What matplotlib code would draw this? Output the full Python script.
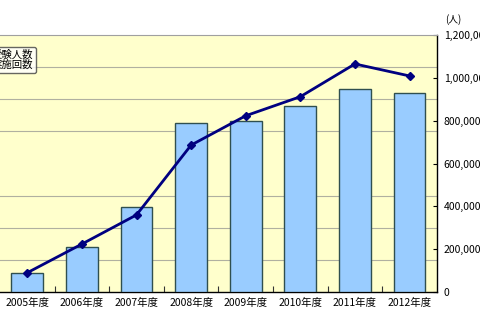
import matplotlib
matplotlib.use("Agg")
import matplotlib.pyplot as plt
from matplotlib.ticker import FuncFormatter, MultipleLocator
from matplotlib.lines import Line2D
from matplotlib.patches import Patch

plt.rcParams['font.family'] = ['Noto Sans CJK JP', 'DejaVu Sans']

years = ["2005年度", "2006年度", "2007年度", "2008年度", "2009年度", "2010年度", "2011年度", "2012年度"]
people = [88000, 210000, 397000, 789000, 798000, 868000, 948000, 929000]
counts = [90000, 224000, 360000, 686000, 823000, 912000, 1065000, 1009000]
legend_labels = ["受験人数", "実施回数"]
unit_label = "(人)"

fig = plt.figure(figsize=(4.8, 3.2), dpi=100)
fig.patch.set_facecolor("white")
ax = fig.add_axes([0.0, 0.0875, 0.910, 0.803])
ax.set_facecolor("#FFFFCC")

x = list(range(len(years)))
ax.bar(x, people, width=0.58, color="#99CCFF", edgecolor="#2F4F4F", linewidth=1.0, zorder=3)
ax.plot(x, counts, color="#000080", linewidth=2.0, marker="D", markersize=4.5,
        markerfacecolor="#000080", markeredgecolor="#000080", zorder=4)

ax.set_xlim(-0.5, len(years) - 0.5)
ax.set_ylim(0, 1200000)
ax.set_xticks(x)
ax.set_xticklabels(years, fontsize=7.5)
ax.set_xticks([i + 0.5 for i in x[:-1]], minor=True)
ax.tick_params(axis='x', which='major', length=0, pad=4)
ax.tick_params(axis='x', which='minor', direction='in', length=4, width=0.8, color='#333333')

ax.yaxis.tick_right()
ax.yaxis.set_major_locator(MultipleLocator(200000))
ax.yaxis.set_minor_locator(MultipleLocator(150000))
ax.yaxis.set_major_formatter(FuncFormatter(lambda v, p: f"{int(v):,}"))
ax.tick_params(axis='y', which='major', direction='in', length=3, width=0.8, labelsize=7.5, pad=5)
ax.tick_params(axis='y', which='minor', length=0)
ax.grid(axis='y', which='minor', color='#B0B0A0', linewidth=0.8, zorder=0)

ax.spines['top'].set_color('#A0A0A0')
ax.spines['left'].set_visible(False)
ax.spines['right'].set_color('black')
ax.spines['bottom'].set_color('black')
ax.spines['right'].set_linewidth(1.0)
ax.spines['bottom'].set_linewidth(1.0)

fig.text(445 / 480, 1 - 20 / 320, unit_label, fontsize=7, ha='left', va='center')

handles = [Patch(facecolor="#99CCFF", edgecolor="#2F4F4F"),
           Line2D([0], [0], color="#000080", marker="D", markersize=4, linewidth=2)]
leg = ax.legend(handles, legend_labels, loc='upper right', bbox_to_anchor=(36 / 437, 0.955),
                borderaxespad=0, fontsize=7.5, frameon=True, fancybox=True, edgecolor='#404040',
                handlelength=1.5, borderpad=0.25, labelspacing=0.05, handletextpad=0.4)
leg.get_frame().set_linewidth(1.0)
leg.get_frame().set_facecolor('white')

fig.savefig("out.png", dpi=100)
